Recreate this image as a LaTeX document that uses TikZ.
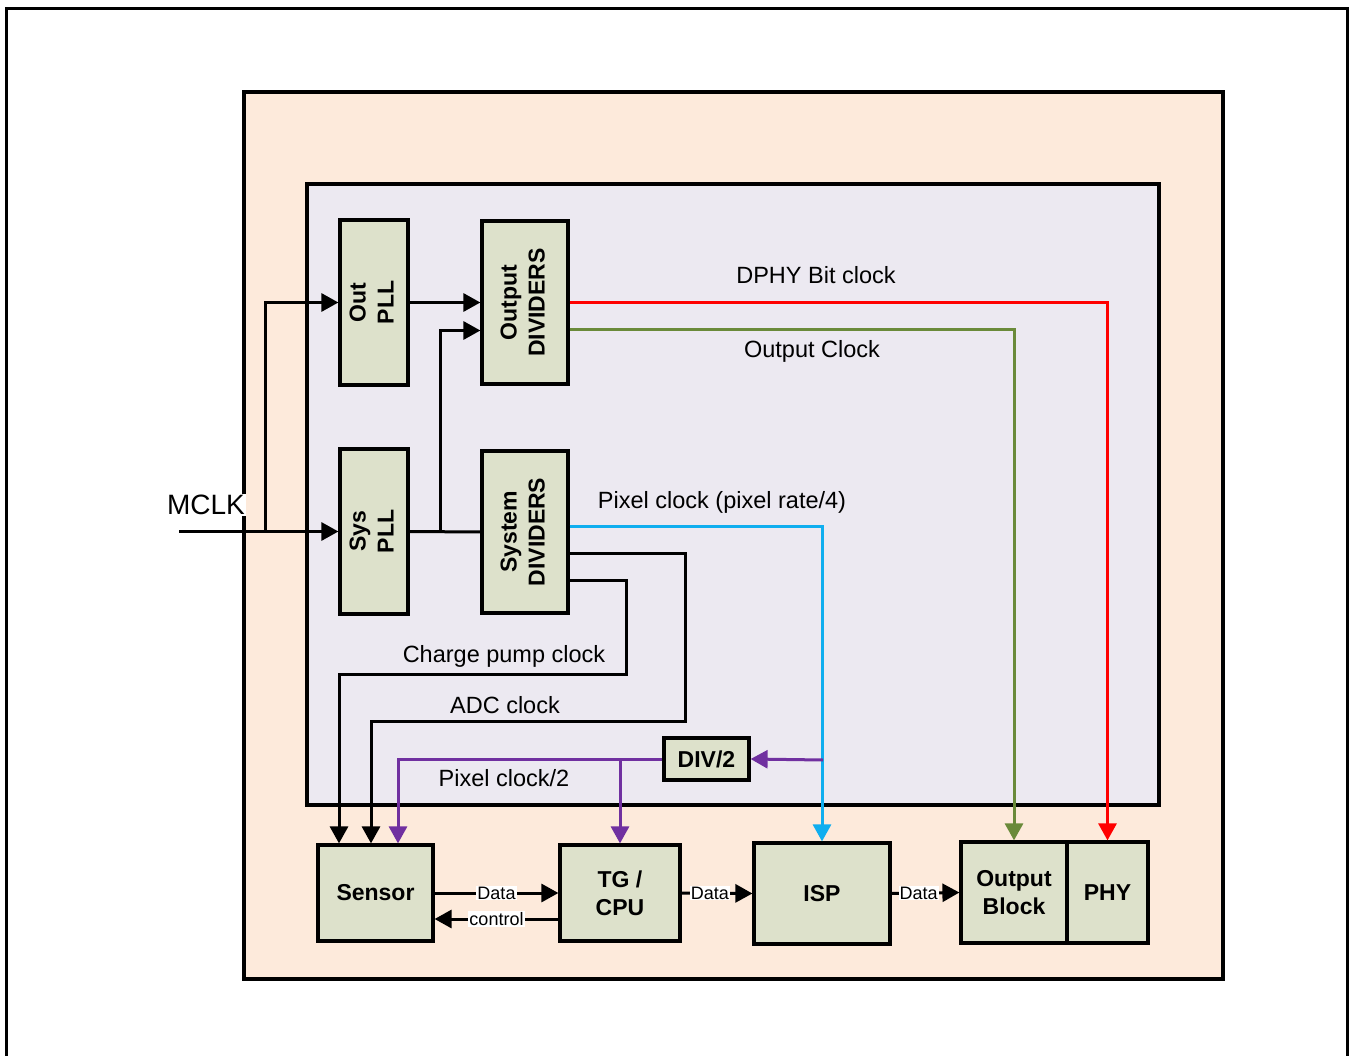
\documentclass[tikz,border=0pt]{standalone}
\usepackage{fontspec}
\setmainfont{Liberation Sans}
\usetikzlibrary{arrows.meta,calc}
\definecolor{peach}{HTML}{FDEADB}
\definecolor{lav}{HTML}{ECE9F1}
\definecolor{boxf}{HTML}{DDE1CB}
\definecolor{grn}{HTML}{6A8A3A}
\definecolor{blu}{HTML}{10AEEF}
\definecolor{pur}{HTML}{7030A0}
\newcommand{\vtext}[2]{\rotatebox{90}{\setlength{\tabcolsep}{0pt}\begin{tabular}{c}#1\\#2\end{tabular}}}
\begin{document}
\begin{tikzpicture}[x=1pt,y=-1pt,
  blk/.style={draw=black, line width=3.2pt, fill=boxf, inner sep=0pt, align=center,
    font=\fontsize{23pt}{28pt}\selectfont\bfseries},
  lbl/.style={font=\fontsize{23.5pt}{28pt}\selectfont, inner sep=1pt},
  dlbl/.style={font=\fontsize{18pt}{20pt}\selectfont, fill=white, inner sep=1pt},
  conn/.style={line width=3pt},
  tip/.style={-{Triangle[length=17pt,width=18pt]}},
  frame/.style={draw=black, line width=3.2pt}]
\useasboundingbox (0,0) rectangle (1354,1056);
\fill[white] (0,0) rectangle (1354,1056);
% outer frame (open at the bottom)
\draw[line width=3pt] (6,1066) -- (6,9) -- (1347,9) -- (1347,1066);
% peach and lavender areas
\filldraw[frame, fill=peach] (244,92) rectangle (1223,979);
\filldraw[frame, fill=lav] (307,184) rectangle (1159,805);

% blocks
\node[blk, minimum width=68pt, minimum height=165pt] (opll) at (374,302.5) {\vtext{Out}{PLL}};
\node[blk, minimum width=86pt, minimum height=163pt] (odiv) at (525,302.5) {\vtext{Output}{DIVIDERS}};
\node[blk, minimum width=68pt, minimum height=165pt] (spll) at (374,531.5) {\vtext{Sys}{PLL}};
\node[blk, minimum width=86pt, minimum height=162pt] (sdiv) at (525,532) {\vtext{System}{DIVIDERS}};
\node[blk, minimum width=85pt, minimum height=42pt] (div) at (706.5,759) {DIV/2};
\node[blk, minimum width=115pt, minimum height=96pt] (sensor) at (375.5,893) {Sensor};
\node[blk, minimum width=120pt, minimum height=96pt] (tg) at (620,893) {TG /\\CPU};
\node[blk, minimum width=136pt, minimum height=101pt] (isp) at (822,893.5) {ISP};
\node[blk, minimum width=106pt, minimum height=101pt] (ob) at (1014,892.5) {Output\\Block};
\node[blk, minimum width=81pt, minimum height=101pt] (phy) at (1107.5,892.5) {PHY};

% MCLK
\coordinate (mclk) at (179,531.5);
\coordinate (mbr) at (265,531.5);
\coordinate (sbr) at (440,531.5);
\draw[conn, tip] (mclk) -- (spll.west);
\draw[conn, tip] (mbr) |- (opll.west);
\node[lbl, fill=white, font=\fontsize{28pt}{30pt}\selectfont, inner sep=1pt] (mclkl) at (206,505) {MCLK};

% PLL -> dividers
\draw[conn, tip] (opll.east) -- (odiv.west);
\draw[conn] (spll.east) -- (sdiv.west);
\draw[conn, tip] (sbr) |- ([yshift=-28pt]odiv.west);

% output clocks
\draw[conn, red, tip] (odiv.east) -| (phy.north);
\draw[conn, grn, tip] ([yshift=-27.5pt]odiv.east) -| (ob.north);
\node[lbl] (dphyl) at (816,275) {DPHY Bit clock};
\node[lbl] (outl) at (812,351) {Output Clock};

% pixel clock
\draw[conn, blu, tip] ([yshift=6pt]sdiv.east) -| (isp.north);
\node[lbl] (pixl) at (722,502) {Pixel clock (pixel rate/4)};
\coordinate (pbr) at (823,760);
\draw[conn, pur, tip] (pbr) -- (div.east);

% ADC and charge pump clocks
\draw[conn, tip] ([yshift=-21pt]sdiv.east) -- (685,553) -- (685,721) -- (371,721) -- ([xshift=-4.5pt]sensor.north);
\draw[conn, tip] ([yshift=-48pt]sdiv.east) -- (626,580) -- (626,674) -- (339,674) -- ([xshift=-36.5pt]sensor.north);
\node[lbl] (cpl) at (504,656) {Charge pump clock};
\node[lbl] (adcl) at (505,705) {ADC clock};

% pixel clock / 2
\draw[conn, pur, tip] (div.west) -| ([xshift=22.5pt]sensor.north);
\coordinate (tbr) at (620,760);
\draw[conn, pur, tip] (tbr) -- (tg.north);
\node[lbl] (p2l) at (504,778) {Pixel clock/2};

% data paths
\draw[conn, tip] (sensor.east) -- node[dlbl] {Data} (tg.west);
\draw[conn, tip] ([yshift=-26pt]tg.west) -- node[dlbl] {control} ([yshift=-26pt]sensor.east);
\draw[conn, tip] (tg.east) -- node[dlbl, pos=0.4] {Data} (isp.west);
\draw[conn, tip] (isp.east) -- node[dlbl, pos=0.4] {Data} (ob.west);
\end{tikzpicture}
\end{document}
